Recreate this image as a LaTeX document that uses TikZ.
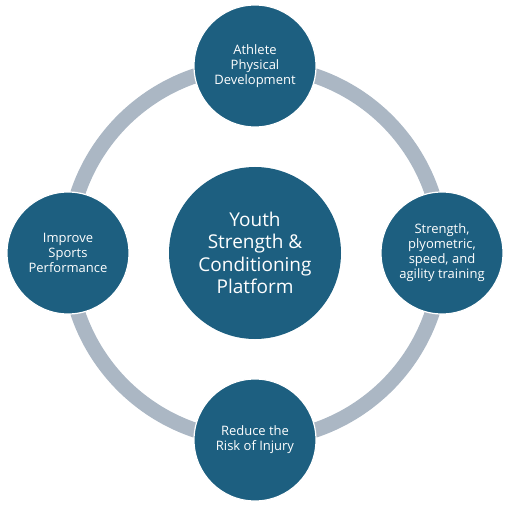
\documentclass[tikz,border=0pt]{standalone}
\usepackage{fontspec}
\setmainfont{Open Sans}
\usetikzlibrary{positioning}
\definecolor{bleu}{HTML}{1D5F80}
\definecolor{gris}{HTML}{ABB7C4}
\begin{document}
\begin{tikzpicture}[
    x=1pt, y=1pt,
    node distance=187pt, on grid,
    % Cercle central et petits cercles
    centre/.style={circle, fill=bleu, minimum size=172pt, inner sep=0pt,
        text=white, align=center, font=\fontsize{19}{22.5}\selectfont},
    etape/.style={circle, fill=bleu, draw=white, line width=1.2pt,
        minimum size=122pt, inner sep=0pt,
        text=white, align=center, font=\fontsize{13}{15}\selectfont},
    anneau/.style={draw=gris, line width=15pt}
]
\useasboundingbox (0,0) rectangle (509,507);
% Centre
\node[centre] (plateforme) at (255,254)
    {Youth\\Strength \&\\Conditioning\\Platform};
% Anneau
\draw[anneau] (plateforme) circle[radius=187pt];
% Etapes
\node[etape, above=of plateforme] (athlete)
    {Athlete\\Physical\\Development};
\node[etape, right=of plateforme] (entrainement)
    {Strength,\\plyometric,\\speed, and\\agility training};
\node[etape, below=of plateforme] (blessure)
    {Reduce the\\Risk of Injury};
\node[etape, left=of plateforme] (performance)
    {Improve\\Sports\\Performance};
\end{tikzpicture}
\end{document}
